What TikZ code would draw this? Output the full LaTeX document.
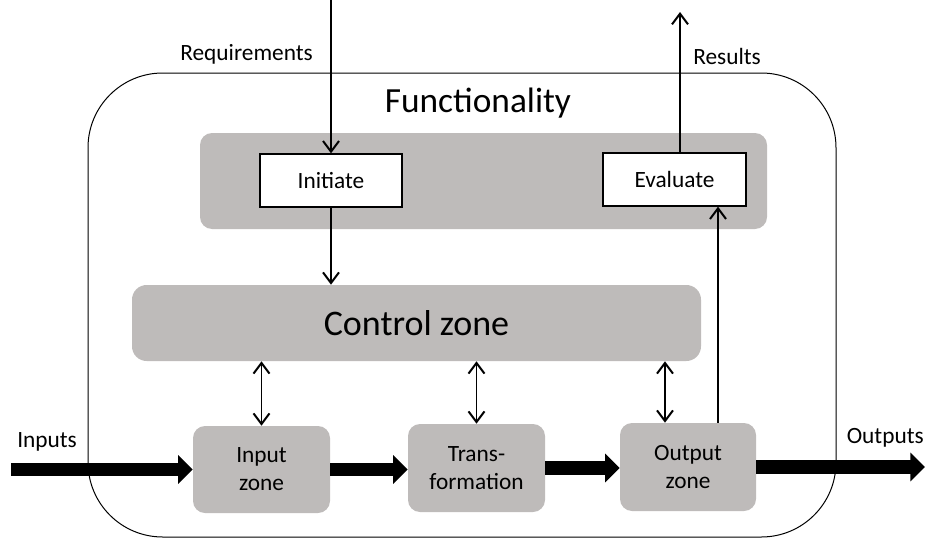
\documentclass[tikz,border=0pt]{standalone}
\usepackage{fontspec}
\setmainfont{Carlito}
\usetikzlibrary{arrows.meta,calc}
\definecolor{zonegray}{RGB}{190,187,186}
\tikzset{
  zone/.style={fill=zonegray, draw=none, rounded corners=9pt, align=center, inner sep=0pt,
    font=\fontsize{17.5}{21}\selectfont},
  whitebox/.style={fill=white, draw=black, line width=1pt, inner sep=0pt,
    font=\fontsize{17.5}{21}\selectfont},
  lbl/.style={inner sep=0.75pt, font=\fontsize{17.5}{21}\selectfont},
  link/.style={line width=1.1pt, -{Straight Barb[length=8pt,width=12pt,line width=1.5pt]}},
  twoway/.style={line width=1.1pt, {Straight Barb[length=8pt,width=12pt,line width=1.5pt]}-{Straight Barb[length=8pt,width=12pt,line width=1.5pt]}},
  flow/.style={line width=10pt, -{Triangle[length=11pt,width=21pt]}}
}
\begin{document}
\begin{tikzpicture}[x=0.75pt,y=0.75pt,yscale=-1,xscale=1]
\useasboundingbox (0,0) rectangle (925,539);

%Rounded Rect: functionality
\draw [line width=0.75pt, rounded corners=56pt] (88,73) rectangle (836,537) ;
% Text Node
\node (func) at (478,103) {\fontsize{26.5}{31}\selectfont Functionality};

%Shapes: upper band and control zone
\node [zone, minimum width=425.25pt, minimum height=72pt] (band) at (483.5,181) {};
\node [zone, rounded corners=11pt, minimum width=426.75pt, minimum height=57pt,
  font=\fontsize{27}{32}\selectfont] (cz) at (416.5,323) {Control zone};

%Shapes: initiate and evaluate
\node [whitebox, minimum width=106.5pt, minimum height=39.75pt] (ini) at (331,180.5) {Initiate};
\node [whitebox, minimum width=107.25pt, minimum height=39.75pt] (ev) at (674.5,179.5) {Evaluate};

%Shapes: the three zones
\node [zone, minimum width=102.75pt, minimum height=65.25pt] (iz) at (261.5,469.5) {Input\\zone};
\node [zone, minimum width=102.75pt, minimum height=66pt] (tr) at (476.5,468) {Trans-\\formation};
\node [zone, minimum width=102pt, minimum height=66pt] (oz) at (688,467) {Output\\zone};

%Free ends
\coordinate (req) at (331,0);
\coordinate (res) at (680,12);
\coordinate (back) at (718,0);
\coordinate (oc) at (665,0);
\coordinate (inp) at (11,469.5);
\coordinate (outp) at (925,467);

%Thin arrows
\draw [link] (req) -- (ini.north) ;
\draw [link] (ev.north -| res) -- (res) ;
\draw [link] (ini.south) -- (cz.north -| ini.south) ;
\draw [link] (oz.north -| back) -- (ev.south -| back) ;

%Double arrows
\draw [twoway] (cz.south -| iz.north) -- (iz.north) ;
\draw [twoway] (cz.south -| tr.north) -- (tr.north) ;
\draw [twoway] (cz.south -| oc) -- (oz.north -| oc) ;

%Thick arrows
\draw [flow] (inp) -- (iz.west) ;
\draw [flow] (iz.east) -- (iz.east -| tr.west) ;
\draw [flow] (tr.east) -- (tr.east -| oz.west) ;
\draw [flow] (oz.east) -- (outp) ;

% Text Node
\node [lbl, anchor=east] (reqlbl) at (314,54) {Requirements};
% Text Node
\node [lbl, anchor=west] (reslbl) at (692,56) {Results};
% Text Node
\node [lbl, anchor=west] (inlbl) at (16,442) {Inputs};
% Text Node
\node [lbl, anchor=east] (outlbl) at (925,438) {Outputs};

\end{tikzpicture}
\end{document}
